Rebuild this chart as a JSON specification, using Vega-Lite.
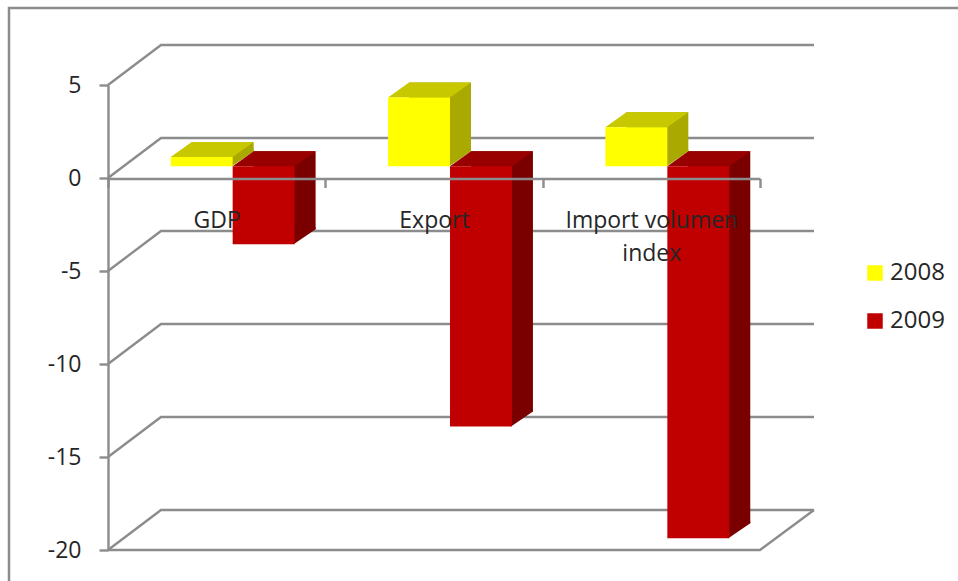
{"$schema":"https://vega.github.io/schema/vega-lite/v6.json","width":652,"height":465,"autosize":"none","padding":{"left":108,"top":85,"right":198,"bottom":31},"background":"white","config":{"view":{"stroke":null},"font":"Open Sans"},"data":{"values":[{"category":"GDP","year":"2008","value":0.5},{"category":"GDP","year":"2009","value":-4.2},{"category":"Export","year":"2008","value":3.7},{"category":"Export","year":"2009","value":-14},{"category":"Import volumen index","year":"2008","value":2.1},{"category":"Import volumen index","year":"2009","value":-20}]},"resolve":{"scale":{"x":"independent","y":"independent","xOffset":"independent"}},"layer":[{"layer":[{"data":{"values":[{"frame":1}]},"mark":{"type":"point","shape":"M-425 264V-309.5H524","size":4,"filled":false,"opacity":1,"stroke":"#8c8c8c","strokeWidth":2.5},"encoding":{}},{"data":{"values":[{"tick":5},{"tick":0},{"tick":-5},{"tick":-10},{"tick":-15},{"tick":-20}]},"mark":{"type":"point","shape":"M-326 0L-273 -40H380","size":4,"filled":false,"opacity":1,"stroke":"#8c8c8c","strokeWidth":2.4},"encoding":{"y":{"field":"tick","type":"quantitative","stack":null,"scale":{"domain":[-20,5],"nice":false,"zero":false},"axis":{"title":null,"values":[5,0,-5,-10,-15,-20],"grid":false,"domainColor":"#8c8c8c","domainWidth":2.4,"tickColor":"#8c8c8c","tickWidth":2.4,"tickSize":9,"labelFontSize":23,"labelColor":"#262626","labelPadding":18,"labelFont":"Open Sans","labelExpr":"'' + datum.value"}}}},{"data":{"values":[{"tick":-20}]},"mark":{"type":"point","shape":"M-326 0H326L380 -40","size":4,"filled":false,"opacity":1,"stroke":"#8c8c8c","strokeWidth":2.4},"encoding":{"y":{"field":"tick","type":"quantitative"}}}]},{"transform":[{"filter":"datum.year == '2008'"}],"mark":{"type":"bar","fill":"#a9a900"},"encoding":{"x":{"field":"category","type":"nominal","sort":["GDP","Export","Import volumen index"],"scale":{"type":"band","range":[37,689],"paddingInner":0.43,"paddingOuter":0.215},"axis":null},"xOffset":{"field":"year","type":"nominal","sort":["2008","2009"],"scale":{"domain":["2008","2009"],"paddingInner":0,"paddingOuter":0}},"y":{"field":"value","type":"quantitative","stack":null,"scale":{"domain":[-20,5],"nice":false,"zero":false,"range":[438.2,-26.8]},"axis":null}}},{"transform":[{"filter":"datum.year == '2008'"}],"encoding":{"x":{"field":"category","type":"nominal","sort":["GDP","Export","Import volumen index"],"scale":{"type":"band","range":[16,668],"paddingInner":0.43,"paddingOuter":0.215},"axis":null},"xOffset":{"field":"year","type":"nominal","sort":["2008","2009"],"scale":{"domain":["2008","2009"],"paddingInner":0,"paddingOuter":0}},"y":{"field":"value","type":"quantitative","stack":null,"scale":{"domain":[-20,5],"nice":false,"zero":false,"range":[453.2,-11.8]},"axis":null}},"layer":[{"mark":{"type":"point","shape":"M30 0L52 -15V-17H30Z","size":4,"filled":true,"opacity":1,"strokeWidth":0,"fill":"#a9a900"},"encoding":{"y":{"datum":0,"type":"quantitative","axis":null}}},{"mark":{"type":"point","shape":"M-31 0H31L52 -15H-10Z","size":4,"filled":true,"opacity":1,"strokeWidth":0,"fill":"#c8c800"}},{"mark":{"type":"bar"},"encoding":{"color":{"field":"year","type":"nominal","scale":{"domain":["2008","2009"],"range":["#ffff00","#c00000"]},"legend":{"title":null,"orient":"none","legendX":755,"legendY":176,"symbolType":"square","symbolSize":240,"symbolStrokeWidth":0,"labelFontSize":24,"labelColor":"#262626","labelFont":"Open Sans","labelOffset":3,"rowPadding":24}}}}]},{"transform":[{"filter":"datum.year == '2009'"}],"mark":{"type":"bar","fill":"#7a0000"},"encoding":{"x":{"field":"category","type":"nominal","sort":["GDP","Export","Import volumen index"],"scale":{"type":"band","range":[37,689],"paddingInner":0.43,"paddingOuter":0.215},"axis":null},"xOffset":{"field":"year","type":"nominal","sort":["2008","2009"],"scale":{"domain":["2008","2009"],"paddingInner":0,"paddingOuter":0}},"y":{"field":"value","type":"quantitative","stack":null,"scale":{"domain":[-20,5],"nice":false,"zero":false,"range":[438.2,-26.8]},"axis":null}}},{"transform":[{"filter":"datum.year == '2009'"}],"encoding":{"x":{"field":"category","type":"nominal","sort":["GDP","Export","Import volumen index"],"scale":{"type":"band","range":[16,668],"paddingInner":0.43,"paddingOuter":0.215},"axis":null},"xOffset":{"field":"year","type":"nominal","sort":["2008","2009"],"scale":{"domain":["2008","2009"],"paddingInner":0,"paddingOuter":0}},"y":{"field":"value","type":"quantitative","stack":null,"scale":{"domain":[-20,5],"nice":false,"zero":false,"range":[453.2,-11.8]},"axis":null}},"layer":[{"mark":{"type":"point","shape":"M30 0L52 -15V-17H30Z","size":4,"filled":true,"opacity":1,"strokeWidth":0,"fill":"#7a0000"}},{"mark":{"type":"point","shape":"M-31 0H31L52 -15H-10Z","size":4,"filled":true,"opacity":1,"strokeWidth":0,"fill":"#990000"},"encoding":{"y":{"datum":0,"type":"quantitative","axis":null}}},{"mark":{"type":"bar"},"encoding":{"color":{"field":"year","type":"nominal"}}}]},{"mark":{"type":"point","opacity":0},"encoding":{"x":{"field":"category","type":"nominal","sort":["GDP","Export","Import volumen index"],"scale":{"type":"band","paddingInner":0,"paddingOuter":0},"axis":{"title":null,"orient":"bottom","offset":-371.5,"zindex":3,"labelAngle":0,"tickBand":"extent","domainColor":"#8c8c8c","domainWidth":2.4,"tickColor":"#8c8c8c","tickWidth":2.4,"tickSize":9,"labelFontSize":23,"labelColor":"#262626","labelPadding":22,"labelFont":"Open Sans","labelLineHeight":33,"labelExpr":"datum.label == 'Import volumen index' ? ['Import volumen','index'] : datum.label"}},"y":{"field":"value","type":"quantitative","stack":null,"scale":{"domain":[-20,5],"nice":false,"zero":false},"axis":null}}}]}
